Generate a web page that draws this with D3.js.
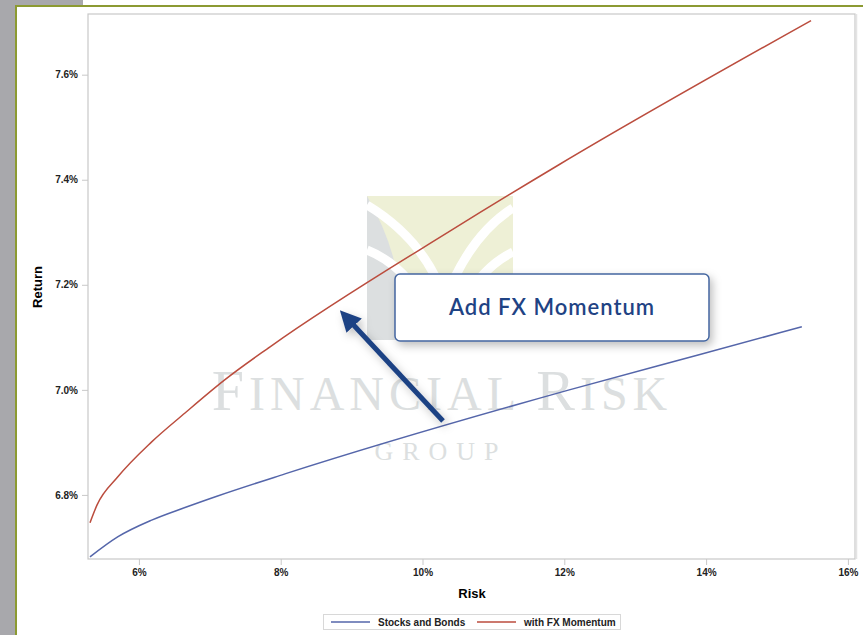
<!DOCTYPE html>
<html><head><meta charset="utf-8">
<script src="https://cdn.jsdelivr.net/npm/d3@7"></script>
<style>body{margin:0;background:#fff;}svg{display:block;}</style>
</head><body>
<svg id="c" width="863" height="635"></svg>
<script>
// Data (risk %, return %)
const stocksRisk   = [5.31, 5.70, 6.18, 6.65, 7.11, 8.06, 12.07, 13.90, 15.35];
const stocksReturn = [6.682, 6.720, 6.752, 6.776, 6.798, 6.840, 7.000, 7.067, 7.120];
const fxRisk       = [5.31, 5.41, 5.70, 6.18, 6.65, 7.21, 7.85, 10.42, 11.93, 15.48];
const fxReturn     = [6.747, 6.781, 6.834, 6.901, 6.956, 7.019, 7.082, 7.305, 7.429, 7.703];
const xTicks = [6, 8, 10, 12, 14, 16];
const yTicks = [6.8, 7.0, 7.2, 7.4, 7.6];
const seriesNames = ["Stocks and Bonds", "with FX Momentum"];
const seriesColors = ["#5566aa", "#bb4d3e"];

const svg = d3.select("#c");
// page chrome
svg.append("rect").attr("x",0).attr("y",0).attr("width",15).attr("height",635).attr("fill","#a8a8ac");
svg.append("rect").attr("x",0).attr("y",0).attr("width",83).attr("height",5).attr("fill","#a8a8ac");
svg.append("rect").attr("x",15).attr("y",5).attr("width",848).attr("height",2).attr("fill","#8c9a32");
svg.append("rect").attr("x",15).attr("y",5).attr("width",2).attr("height",630).attr("fill","#8c9a32");

const L=88, R=855, T=14, B=559;
const x = d3.scaleLinear().domain([5.282, 16.1]).range([L, R]);
const y = d3.scaleLinear().domain([6.678, 7.7155]).range([B, T]);

// watermark logo
const wm = svg.append("g");
wm.append("rect").attr("x",367).attr("y",196).attr("width",146).attr("height",144).attr("fill","#eef0d6");
wm.append("path").attr("d","M367,196 L367,340 L400,340 L400,300 Q398,250 367,196 Z").attr("fill","#dcdfe0");
wm.append("path").attr("d","M367,205 Q425,240 445,300").attr("fill","none").attr("stroke","#fff").attr("stroke-width",9);
wm.append("path").attr("d","M367,250 Q405,265 428,310").attr("fill","none").attr("stroke","#fff").attr("stroke-width",9);
wm.append("path").attr("d","M513,208 Q470,235 445,300").attr("fill","none").attr("stroke","#fff").attr("stroke-width",9);
wm.append("path").attr("d","M513,252 Q480,268 460,310").attr("fill","none").attr("stroke","#fff").attr("stroke-width",9);
const wt = wm.append("text").attr("x",442).attr("y",410).attr("text-anchor","middle")
  .attr("font-family","Liberation Serif, DejaVu Serif, serif").attr("fill","#dcdfe0").attr("letter-spacing",5);
wt.append("tspan").attr("font-size",58).text("F");
wt.append("tspan").attr("font-size",48).text("INANCIAL ");
wt.append("tspan").attr("font-size",58).text("R");
wt.append("tspan").attr("font-size",48).text("ISK");
wm.append("text").attr("x",441).attr("y",460).attr("text-anchor","middle").attr("font-size",26)
  .attr("letter-spacing",9).attr("font-family","Liberation Serif, DejaVu Serif, serif").attr("fill","#dcdfe0").text("GROUP");

// frame
svg.append("rect").attr("x",L).attr("y",T).attr("width",R-L).attr("height",B-T)
  .attr("fill","none").attr("stroke","#c8c8c8").attr("stroke-width",1.2);
svg.append("line").attr("x1",R+1.5).attr("x2",R+1.5).attr("y1",T).attr("y2",B).attr("stroke","#e4e4e4").attr("stroke-width",1.5);

// axes
const xa = svg.append("g").attr("transform",`translate(0,${B})`)
  .call(d3.axisBottom(x).tickValues(xTicks).tickFormat(d=>d+"%").tickSize(6).tickPadding(4));
const ya = svg.append("g").attr("transform",`translate(${L},0)`)
  .call(d3.axisLeft(y).tickValues(yTicks).tickFormat(d=>d.toFixed(1)+"%").tickSize(6).tickPadding(4));
[xa,ya].forEach(a=>{
  a.select(".domain").remove();
  a.selectAll(".tick line").attr("stroke","#c8c8c8");
  a.selectAll("text").attr("font-family","Liberation Sans, Arial, sans-serif").attr("font-size",10)
    .attr("font-weight","bold").attr("fill","#222");
});
svg.append("text").attr("x",472).attr("y",598).attr("text-anchor","middle")
  .attr("font-family","Liberation Sans, Arial, sans-serif").attr("font-size",13).attr("font-weight","bold").text("Risk");
svg.append("text").attr("transform","translate(42,287) rotate(-90)").attr("text-anchor","middle")
  .attr("font-family","Liberation Sans, Arial, sans-serif").attr("font-size",13).attr("font-weight","bold").text("Return");

// lines
const line = d3.line().x(d=>x(d[0])).y(d=>y(d[1])).curve(d3.curveMonotoneX);
const series = [
  stocksRisk.map((r,i)=>[r, stocksReturn[i]]),
  fxRisk.map((r,i)=>[r, fxReturn[i]])
];
series.forEach((s,i)=>{
  svg.append("path").attr("d",line(s)).attr("fill","none").attr("stroke",seriesColors[i]).attr("stroke-width",1.5);
});

// callout
const defs = svg.append("defs");
const f = defs.append("filter").attr("id","sh").attr("x","-20%").attr("y","-20%").attr("width","140%").attr("height","160%");
f.append("feDropShadow").attr("dx",3).attr("dy",4).attr("stdDeviation",4).attr("flood-color","#000").attr("flood-opacity",0.25);
const mk = defs.append("marker").attr("id","ah").attr("viewBox","0 0 10 10").attr("refX",5).attr("refY",5)
  .attr("markerWidth",4.2).attr("markerHeight",4.2).attr("orient","auto");
mk.append("path").attr("d","M0,0 L10,5 L0,10 Z").attr("fill","#1f4384");
svg.append("line").attr("x1",443).attr("y1",421).attr("x2",347).attr("y2",318)
  .attr("stroke","#1f4384").attr("stroke-width",5).attr("marker-end","url(#ah)").attr("filter","url(#sh)");
svg.append("rect").attr("x",395).attr("y",274).attr("width",314).attr("height",67).attr("rx",5)
  .attr("fill","#fff").attr("stroke","#4466a0").attr("stroke-width",1.5).attr("filter","url(#sh)");
svg.append("text").attr("x",552).attr("y",315).attr("text-anchor","middle")
  .attr("font-family","Lato, Open Sans, sans-serif").attr("font-size",22).attr("font-weight","600")
  .attr("fill","#1f4384").attr("letter-spacing",1).text("Add FX Momentum");

// legend
const lg = svg.append("g");
lg.append("rect").attr("x",323.5).attr("y",614.5).attr("width",297).attr("height",15).attr("fill","#fff").attr("stroke","#d8d8d8");
const lx = [331, 477];
seriesNames.forEach((n,i)=>{
  lg.append("line").attr("x1",lx[i]).attr("x2",lx[i]+39).attr("y1",622).attr("y2",622).attr("stroke",seriesColors[i]).attr("stroke-width",1.5);
  lg.append("text").attr("x",lx[i]+47).attr("y",625.5).attr("font-family","Liberation Sans, Arial, sans-serif")
    .attr("font-size",10).attr("font-weight","bold").attr("fill","#222").text(n);
});
</script>
</body></html>
